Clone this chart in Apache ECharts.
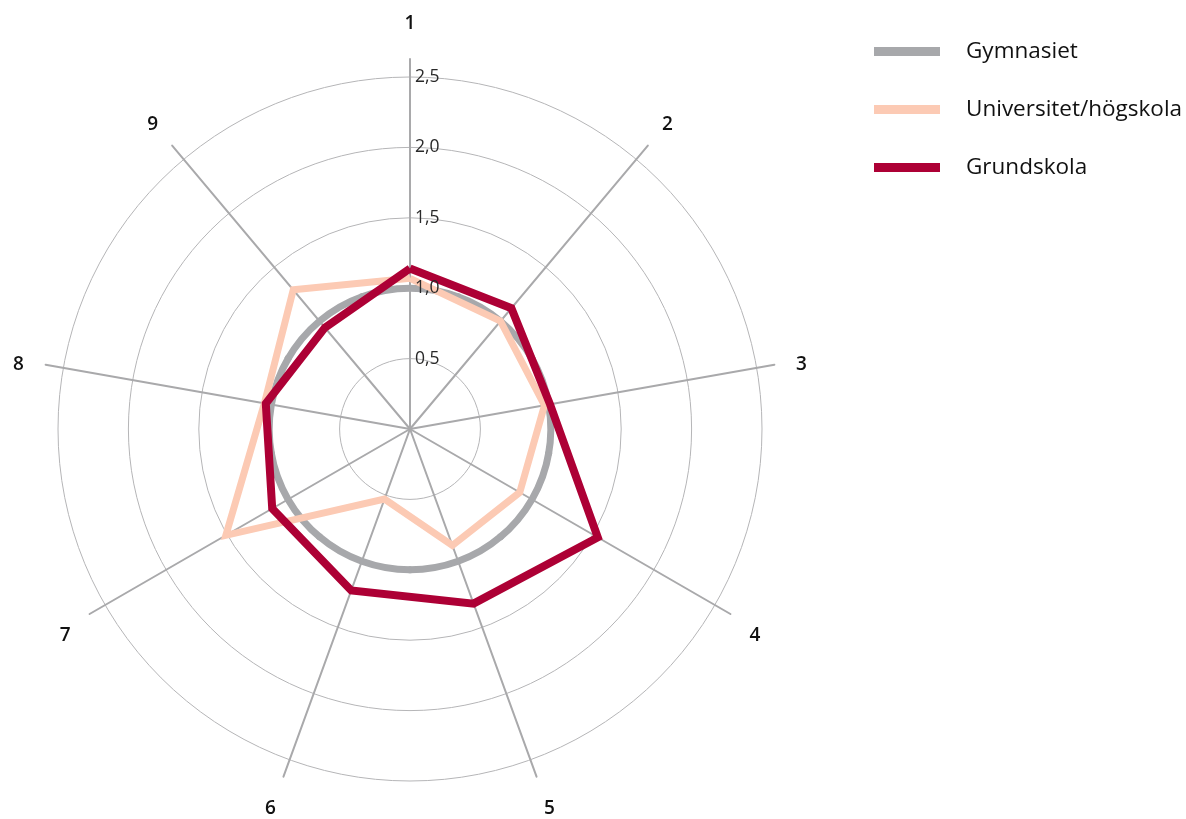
<!DOCTYPE html>
<html>
<head>
<meta charset="utf-8">
<script src="https://cdn.jsdelivr.net/npm/echarts@6/dist/echarts.min.js"></script>
<style>
  html, body { margin: 0; padding: 0; background: #fff; }
  #chart { width: 1186px; height: 819px; }
</style>
</head>
<body>
<div id="chart"></div>
<script>
// axes 1..9, clockwise from the top
const axisNames = ['1', '2', '3', '4', '5', '6', '7', '8', '9']
const gymnasiet   = [1.0, 1.0, 1.0, 1.0, 1.0, 1.0, 1.0, 1.0, 1.0]
const universitet = [1.07, 1.0, 0.97, 0.9, 0.88, 0.53, 1.51, 1.05, 1.29]
const grundskola  = [1.14, 1.12, 1.01, 1.54, 1.32, 1.22, 1.13, 1.04, 0.94]
const tickValues  = [0.5, 1.0, 1.5, 2.0, 2.5]

const seriesNames = ['Gymnasiet', 'Universitet/högskola', 'Grundskola']
const colors = ['#a7a8ab', '#fccab4', '#ad0035']

const FONT = 'Open Sans'
const CENTER = [410, 429]
const STEP = 360 / axisNames.length

// echarts radar runs counter-clockwise, so feed the axes in reverse after the first
const order = axisNames.map((_, i) => (axisNames.length - i) % axisNames.length)
const reorder = arr => order.map(i => arr[i])

// nudge axis names up/down a little (by clockwise position)
const nameStyle = i => (i === 0 ? 't' : (i === 1 || i === 8) ? 'u' : (i === 2 || i === 7) ? 'm' : 'd')
const nameRich = {
  t: { padding: [0, 0, 4, 0] },
  u: { padding: [0, 0, 8, 0] },
  m: { padding: [8, 0, 0, 0] },
  d: { padding: [22, 0, 0, 0] }
}

const chart = echarts.init(document.getElementById('chart'))
chart.setOption({
  animation: false,
  legend: {
    orient: 'vertical',
    left: 869,
    top: 35,
    itemWidth: 66,
    itemHeight: 9,
    itemGap: 35,
    textStyle: { fontFamily: FONT, fontSize: 22.5, color: '#111', lineHeight: 23, padding: [0, 0, 0, 21] },
    data: seriesNames.map((n, i) => ({ name: n, icon: 'rect', itemStyle: { color: colors[i] } }))
  },
  radar: [
    {
      // grid circles
      center: CENTER,
      radius: 352,
      shape: 'circle',
      splitNumber: 5,
      indicator: reorder(axisNames).map(n => ({ name: n, min: 0, max: 2.5 })),
      axisName: { show: false },
      axisLine: { show: false },
      axisTick: { show: false },
      axisLabel: { show: false },
      splitArea: { show: false },
      splitLine: { lineStyle: { color: '#b5b5b7', width: 1 } }
    },
    {
      // spokes reach past the outer circle
      center: CENTER,
      radius: 370,
      shape: 'circle',
      indicator: reorder(axisNames).map(n => ({ name: n, min: 0, max: 2.5 })),
      nameGap: 22,
      axisName: {
        color: '#111', fontFamily: FONT, fontSize: 19, fontWeight: 600,
        formatter: n => `{${nameStyle(axisNames.indexOf(n))}|${n}}`,
        rich: nameRich
      },
      axisLine: { lineStyle: { color: '#a9a9ab', width: 2 } },
      axisTick: { show: false },
      axisLabel: { show: false },
      splitArea: { show: false },
      splitLine: { show: false }
    }
  ],
  polar: { center: CENTER, radius: 352 },
  angleAxis: {
    type: 'value', min: 0, max: 360, startAngle: 90, clockwise: true,
    axisLine: { show: false }, axisTick: { show: false }, axisLabel: { show: false }, splitLine: { show: false }
  },
  radiusAxis: {
    type: 'value', min: 0, max: 2.5, interval: 0.5, z: 10,
    axisLine: { show: false }, axisTick: { show: false }, splitLine: { show: false },
    axisLabel: {
      margin: -5, align: 'left', verticalAlign: 'middle', padding: [5, 0, 0, 0],
      fontFamily: FONT, fontSize: 17.5, fontWeight: 400, color: '#2a2a2a',
      formatter: v => (tickValues.includes(v) ? v.toFixed(1).replace('.', ',') : '')
    }
  },
  series: [
    {
      // reference ring: one arc per axis, drawn at that axis's value
      name: seriesNames[0],
      type: 'custom',
      coordinateSystem: 'polar',
      data: gymnasiet.map((v, i) => [v, i * STEP]),
      renderItem: (params, api) => {
        const cs = params.coordSys
        const p = api.coord([api.value(0), api.value(1)])
        const r = Math.hypot(p[0] - cs.cx, p[1] - cs.cy)
        const a = Math.atan2(p[1] - cs.cy, p[0] - cs.cx)
        const half = Math.PI / axisNames.length + 0.01
        return {
          type: 'arc',
          shape: { cx: cs.cx, cy: cs.cy, r, startAngle: a - half, endAngle: a + half, clockwise: true },
          style: { stroke: colors[0], lineWidth: 7, fill: null }
        }
      },
      itemStyle: { color: colors[0] }
    },
    {
      name: 'radar',
      type: 'radar',
      radarIndex: 0,
      symbol: 'none',
      data: [
        {
          name: seriesNames[1],
          value: reorder(universitet),
          lineStyle: { color: colors[1], width: 7, join: 'miter' },
          itemStyle: { color: colors[1] }
        },
        {
          name: seriesNames[2],
          value: reorder(grundskola),
          lineStyle: { color: colors[2], width: 8, join: 'miter' },
          itemStyle: { color: colors[2] }
        }
      ]
    }
  ]
})
</script>
</body>
</html>
